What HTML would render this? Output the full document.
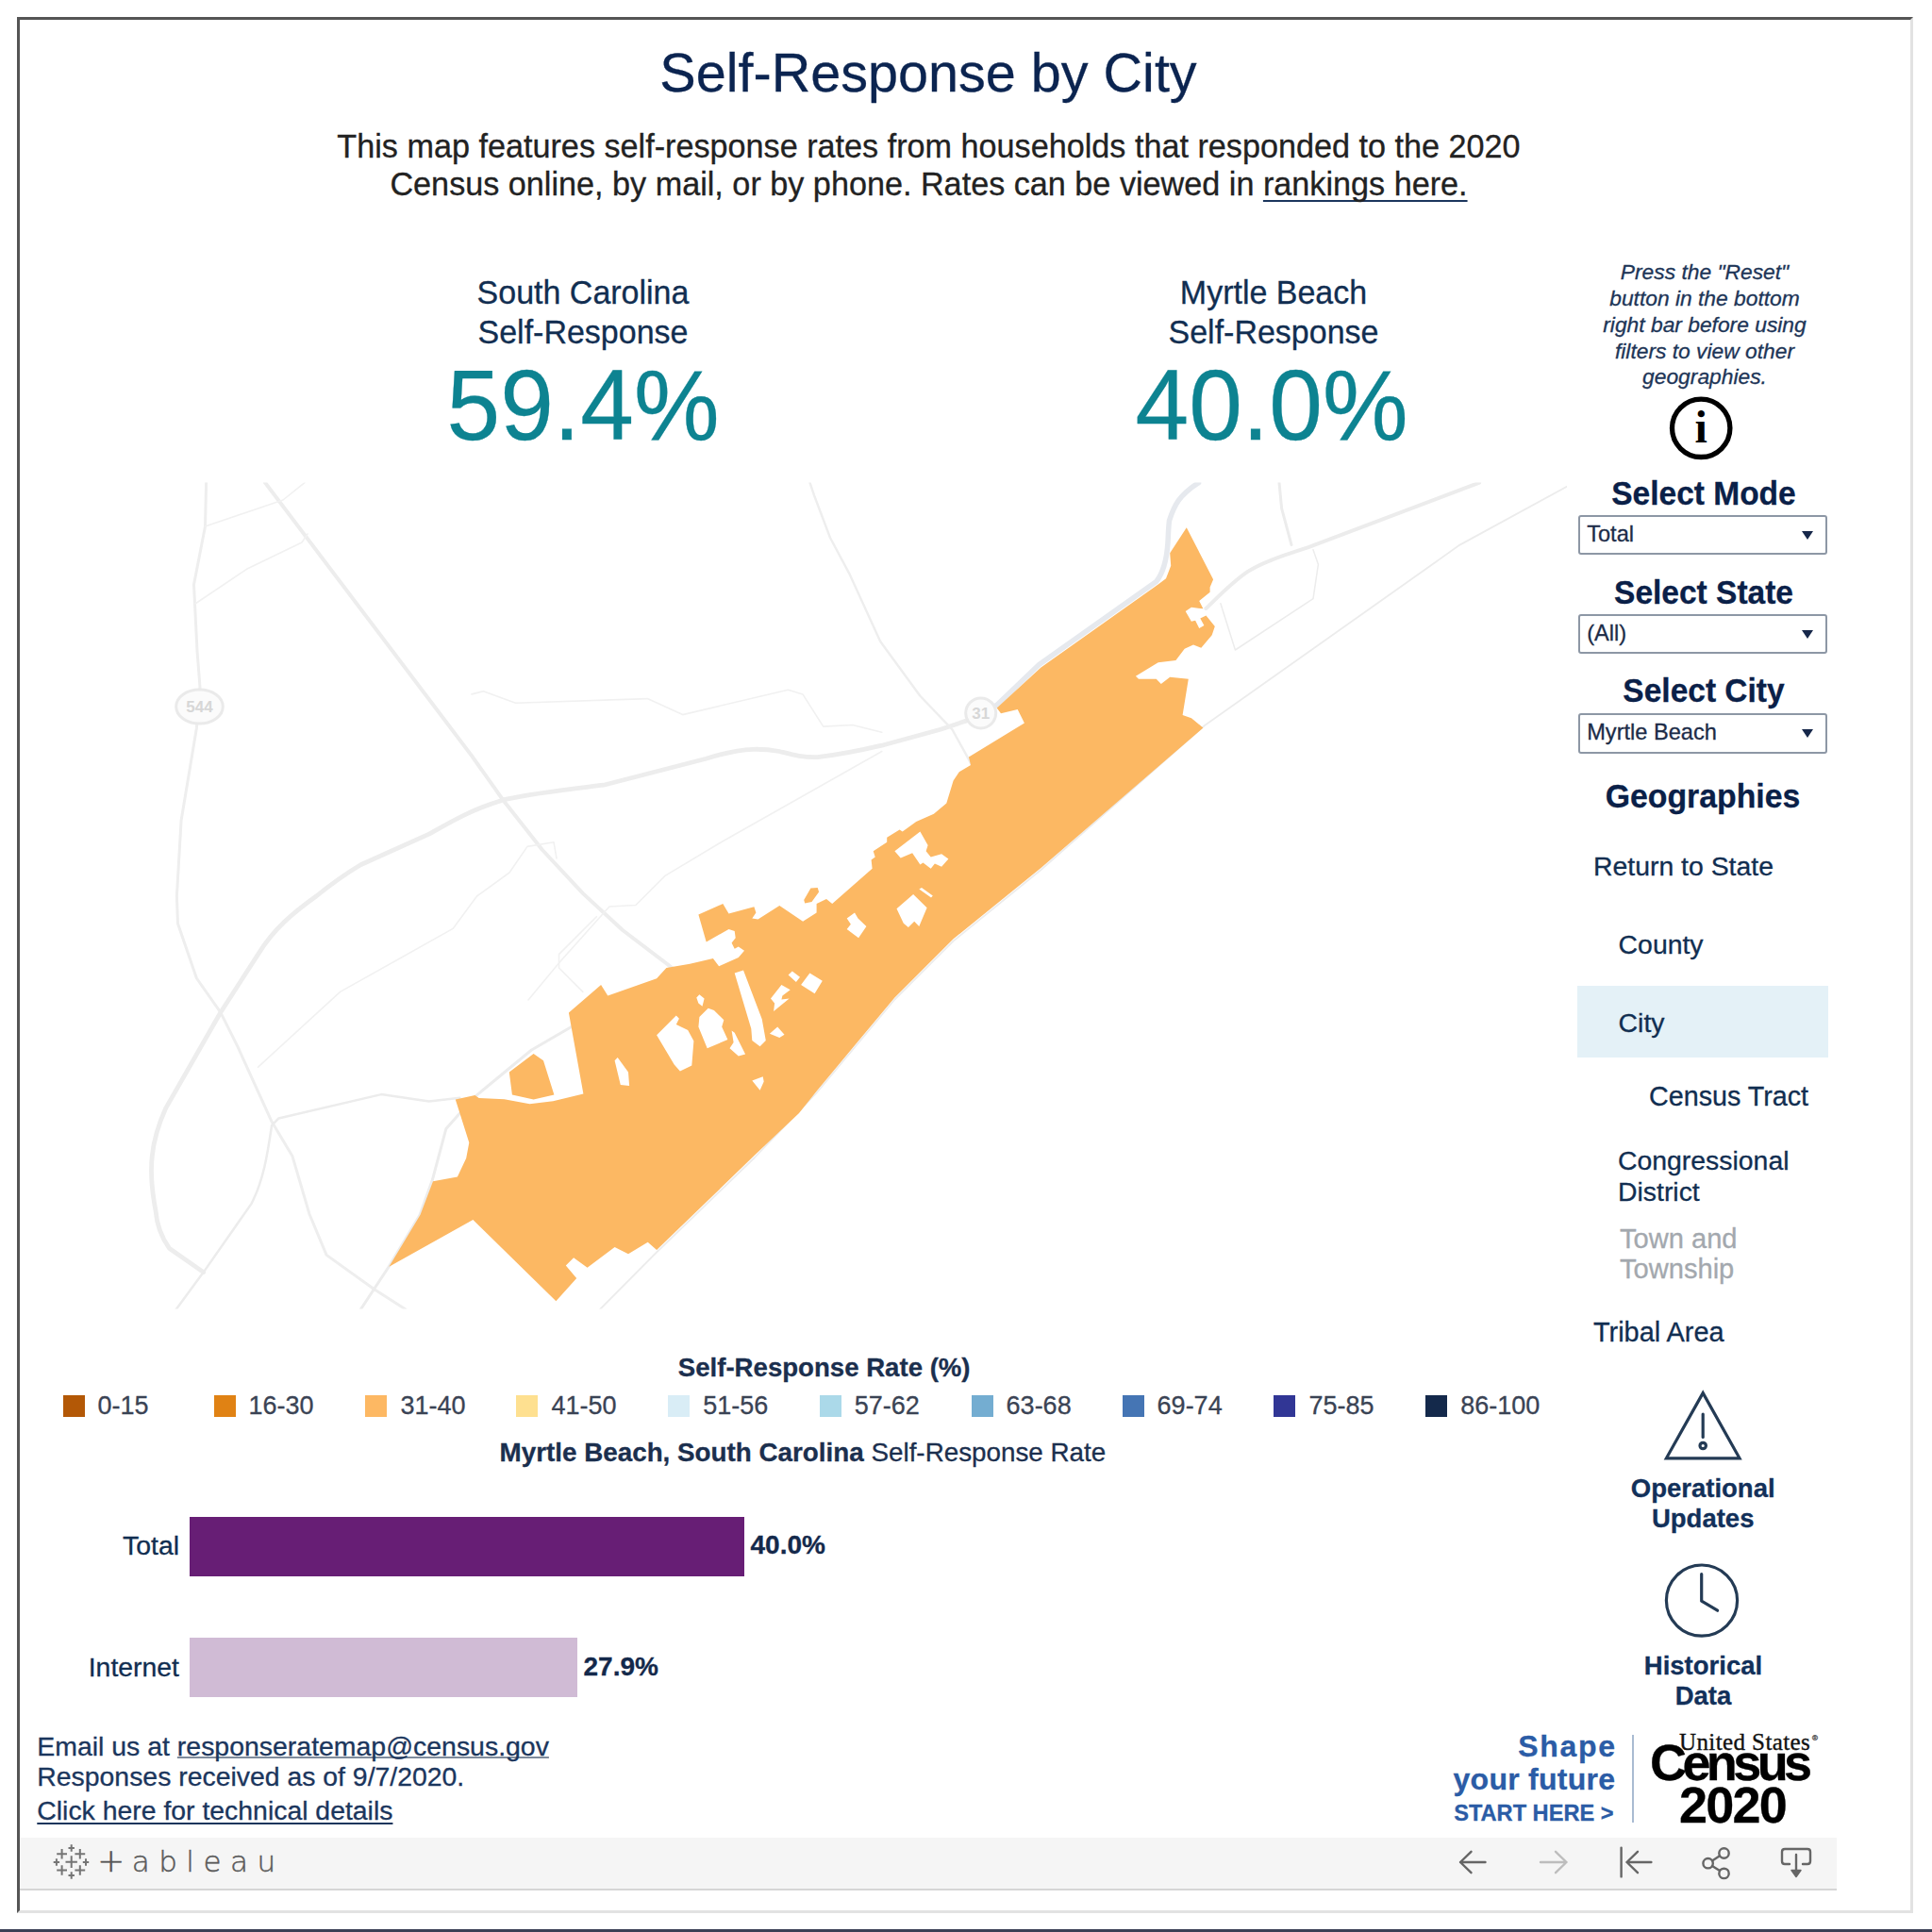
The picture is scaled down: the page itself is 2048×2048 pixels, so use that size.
<!DOCTYPE html>
<html lang="en">
<head>
<meta charset="utf-8">
<title>Self-Response by City</title>
<style>
html,body{margin:0;padding:0;background:#fff;}
body{width:2048px;height:2048px;position:relative;overflow:hidden;font-family:"Liberation Sans",Arial,sans-serif;}
.frame{position:absolute;left:17.5px;top:17.5px;width:2004.4px;height:2004.4px;border-style:solid;border-width:3px;border-color:#555 #e2e2e2 #e2e2e2 #555;}
.bottomstrip{position:absolute;left:0;top:2045px;width:2048px;height:3px;background:#3b3f55;}
.t{position:absolute;line-height:1;white-space:nowrap;-webkit-text-stroke:0.3px;}
.t u{text-decoration-thickness:2px;text-underline-offset:4.5px;text-decoration-skip-ink:none;}
svg{position:absolute;left:0;top:0;}
.sel{position:absolute;left:1673.4px;width:259.2px;height:38.4px;margin-top:-0.3px;border:2px solid #8d97a5;border-radius:3px;background:#fff;}
.sel span{-webkit-text-stroke:0.3px;position:absolute;left:6.8px;top:6.9px;font-size:23.6px;line-height:1;color:#1c2c48;white-space:nowrap;}
.sel i{position:absolute;right:12.6px;top:15.2px;width:0;height:0;border-left:6.3px solid transparent;border-right:6.3px solid transparent;border-top:9.2px solid #16274a;}
.hl{position:absolute;left:1671.7px;top:1045px;width:266.5px;height:75.6px;background:#e4f1f7;}
.sw{position:absolute;top:1479px;width:23px;height:23px;}
.bar{position:absolute;}
.vsep{position:absolute;left:1730px;top:1838.6px;width:2px;height:93px;background:#a9bbd2;}
.tb{position:absolute;left:20.5px;top:1947.7px;width:1926.7px;height:54.7px;background:#f5f5f5;border-bottom:2.2px solid #d6d6d6;}
</style>
</head>
<body>
<div class="frame"></div>
<div class="bottomstrip"></div>
<svg width="2048" height="2048" viewBox="0 0 2048 2048">
<defs><clipPath id="mapclip"><rect x="60" y="511.6" width="1601" height="876"/></clipPath></defs>
<g clip-path="url(#mapclip)" fill="none" stroke="#ececec" stroke-linecap="round" stroke-linejoin="round">
<path stroke-width="4" stroke="#ededed" d="M281 511.6 L500 801.1 L534.2 849.3 L574.5 900.5 L618 947.1 L660 986 L708 1022.5 L735 1045"/>
<path stroke-width="3" stroke="#eeeeee" d="M218.6 511.6 L217.5 558 L205.5 619.6 L209 690 L212 728.3 L208.4 771.7 L192.1 869.6 L187.4 950 L188.5 979 L208.4 1037 L233.8 1073.2 L251.9 1109.4 L288.1 1189.1 L309.9 1225.4 L328 1287 L346.1 1330.4 L396.8 1366.7 L430 1388"/>
<path stroke-width="4.8" stroke="#ededed" d="M215.7 1348.6 L179.4 1323.2 C170 1310 166 1296 165 1283.3 C161 1262 159 1245 161.300 1225.4 C163 1208 168 1192 175.8 1174.6 L233.8 1073.2 L273.6 1011.6 C290 985 310 968 335.2 950 C350 938 365 927 382.3 916.7 L454.8 884.1 C480 870 500 858 534.2 847.7 C570 840 600 837 639.8 832.2 L748.4 804.2 C765 799 780 795 798.1 794.3 C810 794 818 795 826.1 796.5 C840 800 850 803 866.5 802.7 C890 800 910 796 934.8 790.2 L996.9 773.2 L1024.8 763.9"/>
<path stroke-width="5.5" stroke="#e6e9ee" d="M1046 752 L1056.6 747.5 L1101.5 704.5 L1225.7 616.5 C1234 606 1237 590 1238 575 C1238.5 565 1238.5 560 1239.5 551.8 C1245 535 1250 525 1270.6 511.6"/>
<path stroke-width="4" d="M1568.2 511.6 L1387 580.2 C1350 592 1335 598 1322.3 606.1 C1305 618 1292 632 1278.4 645"/>
<path stroke-width="3" d="M1356 511.6 L1358.6 538.8 L1369 577.6"/>
<path stroke-width="1.5" d="M1392 582.8 L1397.4 598.3 L1392 634.6 L1309.4 689 L1293.9 639.8"/>
<path stroke-width="1.8" d="M1661.4 515.5 L1547.5 577.6 L1277 769 L1103.5 922 L1010.6 997.5 L948.4 1059.5 L865.6 1158.5 L800 1227 L696 1327.5 L636 1388"/>
<path stroke-width="2.5" d="M186.7 1388 L215.7 1348.6 L266.4 1276.1 C280 1250 284 1220 288.1 1192.8 L295.4 1185.5 L404.1 1160.1 L454.8 1167.4 L487.4 1163.800"/>
<path stroke-width="3" d="M382.3 1388 L412 1343 L445 1288 L458.4 1250.7 L472.9 1196.4 L501.9 1163.8 L563.5 1113 L607 1087.7"/>
<g stroke="#f1f1f1" stroke-width="1.6">
<path d="M273.6 1131.2 L360.6 1051.4 L480.1 984.4 L505.5 950 L540 925 L559 897.4 L587 892.7 L590 909.8"/>
<path d="M500 735.9 L512.4 732.8 L546.6 745.2 L686.3 740.6 L723.6 757.6 L835.4 731.2 L850.9 735.9 L872.7 770.1 L903.7 768.5 L934.8 776.3"/>
<path d="M934.8 796.5 L767.1 891.2 L705 928.4 L673.9 959.5 L646 961 L593.2 1020 L560 1060"/>
<path stroke-width="2.4" stroke="#eeeeee" d="M858.5 511.6 L863 525 L880 570 L901 609.4 L933.2 680 L975.2 737.5 L1009.3 773.2 L1024.8 801.1 L1030 811"/>
<path d="M632.3 971.7 L592.5 1011.6 L592.5 1026 L617.8 1051.400"/>
<path d="M217.5 558 L300 530 L323 511.6"/>
<path d="M207 640 L262 603 L320 575 L326 566"/>
</g>

</g>
<path fill="#fcb863" fill-rule="evenodd" d="M1257.8 559.3 L1286.1 614.2 L1282.6 622.5 L1282.6 627.7 L1271.2 637.0 L1275.4 645.3 L1262.9 643.8 L1256.7 648.0 L1262.9 658.7 L1267.1 657.7 L1271.2 666.0 L1276.4 662.9 L1272.3 655.6 L1278.5 652.5 L1287.8 663.9 L1284.7 673.2 L1273.3 686.7 L1265.0 683.6 L1255.7 687.7 L1246.4 700.1 L1227.7 702.2 L1203.9 716.7 L1207.0 719.8 L1225.7 719.8 L1230.8 725.0 L1240.2 717.7 L1259.8 719.8 L1253.6 758.1 L1262.9 761.2 L1275.4 771.6 L1103.5 920.0 L1010.6 995.3 L948.4 1057.4 L907.0 1107.1 L865.6 1156.8 L847.0 1180.0 L800.0 1224.6 L696.1 1325.1 L686.7 1316.8 L666.0 1329.2 L651.6 1321.9 L622.6 1343.7 L608.1 1333.3 L599.8 1341.6 L611.2 1355.1 L589.4 1379.3 L501.4 1293.0 L412.4 1342.7 L445.5 1287.8 L459.0 1252.2 L484.9 1247.4 L494.2 1227.7 L497.3 1211.2 L482.8 1165.6 L503.5 1161.1 L507.7 1164.0 L534.6 1165.2 L561.5 1170.2 L586.3 1167.3 L618.4 1159.4 L602.9 1073.5 L637.1 1043.9 L644.3 1055.5 L696.1 1037.3 L706.4 1025.9 L731.3 1021.7 L755.9 1016.0 L762.1 1024.3 L782.8 1015.0 L789.0 1007.7 L782.8 1003.6 L778.7 1005.7 L775.6 999.5 L779.7 994.3 L778.7 987.0 L772.5 985.0 L748.7 998.4 L740.4 969.4 L766.3 958.0 L772.5 968.4 L799.4 961.2 L801.4 967.4 L797.3 973.6 L803.5 974.6 L826.3 960.1 L851.1 976.7 L865.6 967.4 L865.6 958.0 L876.0 952.9 L882.2 958.0 L924.6 920.8 L923.6 911.5 L927.7 908.4 L925.7 902.2 L940.2 892.8 L940.2 887.7 L953.6 879.4 L956.7 881.4 L971.2 871.1 L989.9 862.8 L1003.3 851.4 L1010.6 827.6 L1016.8 818.3 L1029.0 811.0 L1026.9 802.6 L1085.9 766.4 L1078.7 751.9 L1061.0 756.2 L1056.7 750.5 L1103.5 707.4 L1227.7 619.4 L1236.0 613.2 L1241.2 599.7 L1240.2 586.3Z M948.4 902.2 L975.4 881.4 L983.6 895.9 L981.6 902.2 L986.7 908.4 L998.1 905.3 L1005.4 910.4 L998.1 918.7 L990.9 915.6 L986.7 920.8 L978.5 914.6 L975.4 916.6 L967.1 904.2 L954.7 909.4Z M950.5 963.2 L968.1 948.1 L982.6 962.2 L974.3 981.9 L969.2 976.7 L962.9 982.9 L957.8 978.8Z M974.3 942.5 L977.0 941.0 L988.8 949.5 L987.0 951.4Z M897.7 973.6 L906.0 967.4 L909.5 973.6 L918.4 981.9 L910.1 994.3 L897.7 985.0 L901.9 979.8Z M835.6 1033.6 L839.8 1029.5 L848.0 1035.7 L843.9 1040.9Z M849.1 1044.0 L858.4 1031.6 L871.8 1039.8 L863.6 1053.3Z M817.0 1058.5 L828.4 1044.0 L837.7 1049.2 L829.4 1055.4 L828.4 1059.5 L836.6 1058.5 L820.1 1071.9 L821.1 1063.6Z M778.7 1031.6 L788.0 1028.4 L807.7 1080.2 L811.8 1103.0 L805.6 1109.2 L797.3 1103.0 L796.3 1090.6Z M815.9 1095.7 L824.2 1088.5 L831.5 1096.8 L826.3 1099.9Z M738.3 1057.4 L741.4 1054.3 L746.6 1058.5 L744.5 1066.7 L740.4 1063.6Z M741.4 1078.1 L750.7 1068.8 L756.9 1070.9 L767.3 1081.2 L765.2 1088.5 L771.4 1102.0 L749.7 1111.3 L740.4 1088.5Z M775.6 1092.6 L778.7 1094.7 L790.1 1117.5 L782.8 1119.5 L773.5 1111.3 L777.6 1105.1Z M696.1 1097.3 L716.8 1076.6 L719.9 1079.7 L716.8 1085.9 L729.2 1092.1 L735.4 1103.5 L733.3 1129.4 L720.9 1135.6 L714.7 1128.4Z M797.3 1145.4 L808.7 1141.3 L809.7 1146.5 L805.6 1155.8Z M651.6 1124.2 L654.7 1121.1 L666.0 1136.6 L667.1 1151.1 L657.8 1150.1Z M539.8 1136.6 L565.6 1117.0 L576.0 1124.2 L587.4 1160.5 L565.6 1165.6 L542.9 1160.5Z M859.4 941.5 L866.7 941.1 L868.1 945.6 L860.5 956.0 L853.2 957.6 L852.2 953.9Z"/>
<g font-family="Liberation Sans, sans-serif" font-size="17" font-weight="700" fill="#d7d7d7" text-anchor="middle">
<ellipse cx="211.5" cy="749" rx="24.8" ry="18" fill="#fbfbfb" stroke="#eaeaea" stroke-width="3"/>
<text x="211.5" y="755.2">544</text>
<circle cx="1039.7" cy="755.9" r="16" fill="#fbfbfb" stroke="#eaeaea" stroke-width="3"/>
<text x="1039.7" y="762">31</text>
</g>

</svg>
<div class="t" style="top:49.4px;font-size:57.55px;color:#0b2450;left:-16.0px;width:2000px;text-align:center;">Self-Response by City</div>
<div class="t" style="top:137.5px;font-size:34.2px;color:#222;left:-15.5px;width:2000px;text-align:center;">This map features self-response rates from households that responded to the 2020</div>
<div class="t" style="top:177.6px;font-size:34.2px;color:#222;left:-15.5px;width:2000px;text-align:center;">Census online, by mail, or by phone. Rates can be viewed in <u style="text-decoration-color:#1b365d;text-underline-offset:4.7px">rankings here.</u></div>
<div class="t" style="top:291.9px;font-size:35.2px;color:#112e51;left:-381.6px;width:2000px;text-align:center;transform:scaleX(0.966);">South Carolina</div>
<div class="t" style="top:334.0px;font-size:35.2px;color:#112e51;left:-381.6px;width:2000px;text-align:center;transform:scaleX(0.966);">Self-Response</div>
<div class="t" style="top:377.1px;font-size:105px;color:#0d8391;left:-382.0px;width:2000px;text-align:center;transform:scaleX(0.971);">59.4%</div>
<div class="t" style="top:291.9px;font-size:35.2px;color:#112e51;left:350.0px;width:2000px;text-align:center;transform:scaleX(0.966);">Myrtle Beach</div>
<div class="t" style="top:334.0px;font-size:35.2px;color:#112e51;left:350.0px;width:2000px;text-align:center;transform:scaleX(0.966);">Self-Response</div>
<div class="t" style="top:377.1px;font-size:105px;color:#0d8391;left:348.0px;width:2000px;text-align:center;transform:scaleX(0.971);">40.0%</div>
<div class="t" style="top:277.2px;font-size:22.8px;color:#1d3557;font-style:italic;left:807.0px;width:2000px;text-align:center;">Press the "Reset"</div>
<div class="t" style="top:305.0px;font-size:22.8px;color:#1d3557;font-style:italic;left:807.0px;width:2000px;text-align:center;">button in the bottom</div>
<div class="t" style="top:332.8px;font-size:22.8px;color:#1d3557;font-style:italic;left:807.0px;width:2000px;text-align:center;">right bar before using</div>
<div class="t" style="top:360.6px;font-size:22.8px;color:#1d3557;font-style:italic;left:807.0px;width:2000px;text-align:center;">filters to view other</div>
<div class="t" style="top:388.4px;font-size:22.8px;color:#1d3557;font-style:italic;left:807.0px;width:2000px;text-align:center;">geographies.</div>
<div class="t" style="top:505.4px;font-size:35px;color:#0a2048;font-weight:700;left:806.0px;width:2000px;text-align:center;transform:scaleX(0.957);">Select Mode</div>
<div class="t" style="top:609.9px;font-size:35px;color:#0a2048;font-weight:700;left:806.0px;width:2000px;text-align:center;transform:scaleX(0.957);">Select State</div>
<div class="t" style="top:714.4px;font-size:35px;color:#0a2048;font-weight:700;left:806.0px;width:2000px;text-align:center;transform:scaleX(0.957);">Select City</div>
<div class="sel" style="top:546px"><span>Total</span><i></i></div>
<div class="sel" style="top:651.3px"><span>(All)</span><i></i></div>
<div class="sel" style="top:756.6px"><span>Myrtle Beach</span><i></i></div>
<div class="t" style="top:825.9px;font-size:35.3px;color:#0a2048;font-weight:700;left:805.0px;width:2000px;text-align:center;transform:scaleX(0.957);">Geographies</div>
<div class="hl"></div>
<div class="t" style="top:904.4px;font-size:28.4px;color:#112e51;left:1689.0px;">Return to State</div>
<div class="t" style="top:987.2px;font-size:28.4px;color:#112e51;left:1715.6px;">County</div>
<div class="t" style="top:1069.6px;font-size:28.4px;color:#112e51;left:1715.6px;">City</div>
<div class="t" style="top:1147.9px;font-size:28.7px;color:#112e51;left:1748.1px;">Census Tract</div>
<div class="t" style="top:1216.4px;font-size:28.4px;color:#112e51;left:1715.0px;">Congressional</div>
<div class="t" style="top:1249.2px;font-size:28.4px;color:#112e51;left:1715.0px;">District</div>
<div class="t" style="top:1299.3px;font-size:29.1px;color:#a3a8ae;left:1717.0px;">Town and</div>
<div class="t" style="top:1331.4px;font-size:29.1px;color:#a3a8ae;left:1717.0px;">Township</div>
<div class="t" style="top:1398.2px;font-size:28.9px;color:#112e51;left:1689.0px;">Tribal Area</div>
<div class="t" style="top:1563.5px;font-size:27.5px;color:#12305a;font-weight:700;left:805.2px;width:2000px;text-align:center;">Operational</div>
<div class="t" style="top:1595.8px;font-size:27.5px;color:#12305a;font-weight:700;left:805.2px;width:2000px;text-align:center;">Updates</div>
<div class="t" style="top:1752.1px;font-size:27.5px;color:#12305a;font-weight:700;left:805.5px;width:2000px;text-align:center;">Historical</div>
<div class="t" style="top:1784.2px;font-size:27.5px;color:#12305a;font-weight:700;left:805.5px;width:2000px;text-align:center;">Data</div>
<div class="t" style="top:1436.3px;font-size:27.6px;color:#1b2f4e;font-weight:700;left:-126.3px;width:2000px;text-align:center;">Self-Response Rate (%)</div>
<div class="sw" style="left:66.5px;background:#b35806"></div>
<div class="t" style="top:1477.1px;font-size:27px;color:#3a4354;left:103.5px;">0-15</div>
<div class="sw" style="left:226.5px;background:#e08214"></div>
<div class="t" style="top:1477.1px;font-size:27px;color:#3a4354;left:263.5px;">16-30</div>
<div class="sw" style="left:387.4px;background:#fdb863"></div>
<div class="t" style="top:1477.1px;font-size:27px;color:#3a4354;left:424.4px;">31-40</div>
<div class="sw" style="left:547.4px;background:#fee090"></div>
<div class="t" style="top:1477.1px;font-size:27px;color:#3a4354;left:584.4px;">41-50</div>
<div class="sw" style="left:708.3px;background:#d9edf6"></div>
<div class="t" style="top:1477.1px;font-size:27px;color:#3a4354;left:745.3px;">51-56</div>
<div class="sw" style="left:868.7px;background:#abd9e9"></div>
<div class="t" style="top:1477.1px;font-size:27px;color:#3a4354;left:905.7px;">57-62</div>
<div class="sw" style="left:1029.6px;background:#74add1"></div>
<div class="t" style="top:1477.1px;font-size:27px;color:#3a4354;left:1066.6px;">63-68</div>
<div class="sw" style="left:1189.6px;background:#4575b4"></div>
<div class="t" style="top:1477.1px;font-size:27px;color:#3a4354;left:1226.6px;">69-74</div>
<div class="sw" style="left:1350.4px;background:#313695"></div>
<div class="t" style="top:1477.1px;font-size:27px;color:#3a4354;left:1387.4px;">75-85</div>
<div class="sw" style="left:1511.3px;background:#14294b"></div>
<div class="t" style="top:1477.1px;font-size:27px;color:#3a4354;left:1548.3px;">86-100</div>
<div class="t" style="top:1525.5px;font-size:27.8px;color:#1b2f4e;left:529.6px;"><b>Myrtle Beach, South Carolina</b> Self-Response Rate</div>
<div class="bar" style="left:201.3px;top:1607.5px;width:587.8px;height:63.4px;background:#671e75"></div>
<div class="bar" style="left:201.3px;top:1736px;width:410.6px;height:63px;background:#d0bbd5"></div>
<div class="t" style="top:1623.6px;font-size:28.4px;color:#112e51;left:-1010.0px;width:1200px;text-align:right;">Total</div>
<div class="t" style="top:1752.6px;font-size:28.4px;color:#112e51;left:-1010.0px;width:1200px;text-align:right;">Internet</div>
<div class="t" style="top:1623.9px;font-size:28px;color:#14294b;font-weight:700;left:795.5px;">40.0%</div>
<div class="t" style="top:1752.9px;font-size:28px;color:#14294b;font-weight:700;left:618.5px;">27.9%</div>
<div class="t" style="top:1837.1px;font-size:28.45px;color:#1b365d;left:39.3px;">Email us at <u style="text-underline-offset:0.8px;text-decoration-color:#7f8b9c">responseratemap@census.gov</u></div>
<div class="t" style="top:1869.2px;font-size:28.4px;color:#1b365d;left:39.3px;">Responses received as of 9/7/2020.</div>
<div class="t" style="top:1904.9px;font-size:28.4px;color:#1b365d;left:39.3px;"><u style="text-underline-offset:3px">Click here for technical details</u></div>
<div class="t" style="top:1834.6px;font-size:32px;color:#2b5ca6;font-weight:700;letter-spacing:1.7px;left:513.7px;width:1200px;text-align:right;">Shape</div>
<div class="t" style="top:1869.9px;font-size:32px;color:#2b5ca6;font-weight:700;letter-spacing:0.25px;left:512.2px;width:1200px;text-align:right;">your future</div>
<div class="t" style="top:1911.2px;font-size:23.6px;color:#2b5ca6;font-weight:700;left:510.5px;width:1200px;text-align:right;">START HERE &gt;</div>
<div class="vsep"></div>
<div class="t" style="top:1833.8px;font-size:25px;color:#111;letter-spacing:0.4px;font-family:'Liberation Serif',serif;left:1780.0px;-webkit-text-stroke:0.35px #111;">United States</div>
<div class="t" style="top:1839.2px;font-size:8px;color:#444;left:1921.0px;">®</div>
<div class="t" style="top:1841.3px;font-size:54px;color:#000;font-weight:700;letter-spacing:-4.6px;left:1749.0px;">Census</div>
<div class="t" style="top:1885.5px;font-size:54px;color:#000;font-weight:700;letter-spacing:-1.8px;left:1780.0px;">2020</div>
<div class="tb"></div>
<div aria-label="tableau">
<div class="t" style="top:1955.0px;font-size:34.5px;color:#555;left:103.3px;font-family:'DejaVu Sans',sans-serif;font-weight:200;-webkit-text-stroke:0.55px #555;">+</div>
<div class="t" style="top:1957.8px;font-size:31px;color:#5a5a5a;letter-spacing:9.5px;left:139.7px;font-family:'DejaVu Sans',sans-serif;font-weight:200;-webkit-text-stroke:0.45px #5a5a5a;">ableau</div>
</div>
<svg width="2048" height="2048" viewBox="0 0 2048 2048">
<!-- info icon -->
<circle cx="1803.2" cy="453.8" r="30.7" fill="#fff" stroke="#000" stroke-width="5.3"/>
<text x="1803.2" y="469" font-family="Liberation Serif, serif" font-weight="700" font-size="48" text-anchor="middle" fill="#000">i</text>
<!-- warning triangle -->
<g fill="none" stroke="#243b55" stroke-width="3.2" stroke-linejoin="miter">
<path d="M1805.2 1476.6 L1844 1545.8 L1766.4 1545.8 Z"/>
<path d="M1805.2 1499 L1805.2 1523.4" stroke-linecap="round"/>
<circle cx="1805.2" cy="1532.5" r="3.2"/>
<!-- clock -->
<circle cx="1804" cy="1696.6" r="37.6"/>
<path d="M1803.7 1668.5 L1803.7 1697.2 L1820.6 1707.2" stroke-linecap="round" stroke-linejoin="round"/>
</g>
<!-- toolbar icons -->
<g fill="none" stroke="#666" stroke-width="2.4" stroke-linecap="round" stroke-linejoin="round">
<path d="M1574.5 1974 L1548 1974 M1559.5 1962.8 L1548 1974 L1559.5 1985.2"/>
<path stroke="#bdbdbd" d="M1633 1974 L1660.5 1974 M1649 1962.8 L1660.5 1974 L1649 1985.2"/>
<path d="M1718.6 1958.6 L1718.6 1989.4 M1750.4 1974 L1724.5 1974 M1736 1962.8 L1724.5 1974 L1736 1985.2"/>
<circle cx="1827.5" cy="1964.5" r="5.2"/><circle cx="1810.6" cy="1975.2" r="5.2"/><circle cx="1827.5" cy="1985.9" r="5.2"/>
<path d="M1815 1972.4 L1823 1967.3 M1815 1978 L1823 1983.1"/>
<path d="M1897 1976 L1892 1976 Q1889 1976 1889 1973 L1889 1963 Q1889 1960 1892 1960 L1916 1960 Q1919 1960 1919 1963 L1919 1973 Q1919 1976 1916 1976 L1911 1976 M1904 1966 L1904 1984"/>
<path d="M1899 1982.5 L1904 1989.5 L1909 1982.5 Z" fill="#666" stroke-width="1.5"/>
</g>
<!-- tableau sparkle -->
<g stroke="#757575" stroke-width="2" stroke-linecap="butt" fill="none">
<path d="M75.7 1967.3 v12.8 M69.5 1973.7 h12.4"/>
<path d="M75.7 1955.3 v7.4 M72.5 1959 h6.4"/>
<path d="M75.7 1984.3 v7.4 M72.5 1988 h6.4"/>
<path d="M59.9 1970.3 v7.4 M56.7 1974 h6.4"/>
<path d="M91 1970.3 v7.4 M87.800 1974 h6.4"/>
<path d="M65.6 1960 v10.4 M60.2 1965.2 h10.8"/>
<path d="M84.8 1960 v10.4 M79.4 1965.2 h10.8"/>
<path d="M65.6 1977.3 v10.4 M60.2 1982.5 h10.8"/>
<path d="M84.8 1977.3 v10.4 M79.4 1982.5 h10.8"/>
</g>

</svg>
</body>
</html>
